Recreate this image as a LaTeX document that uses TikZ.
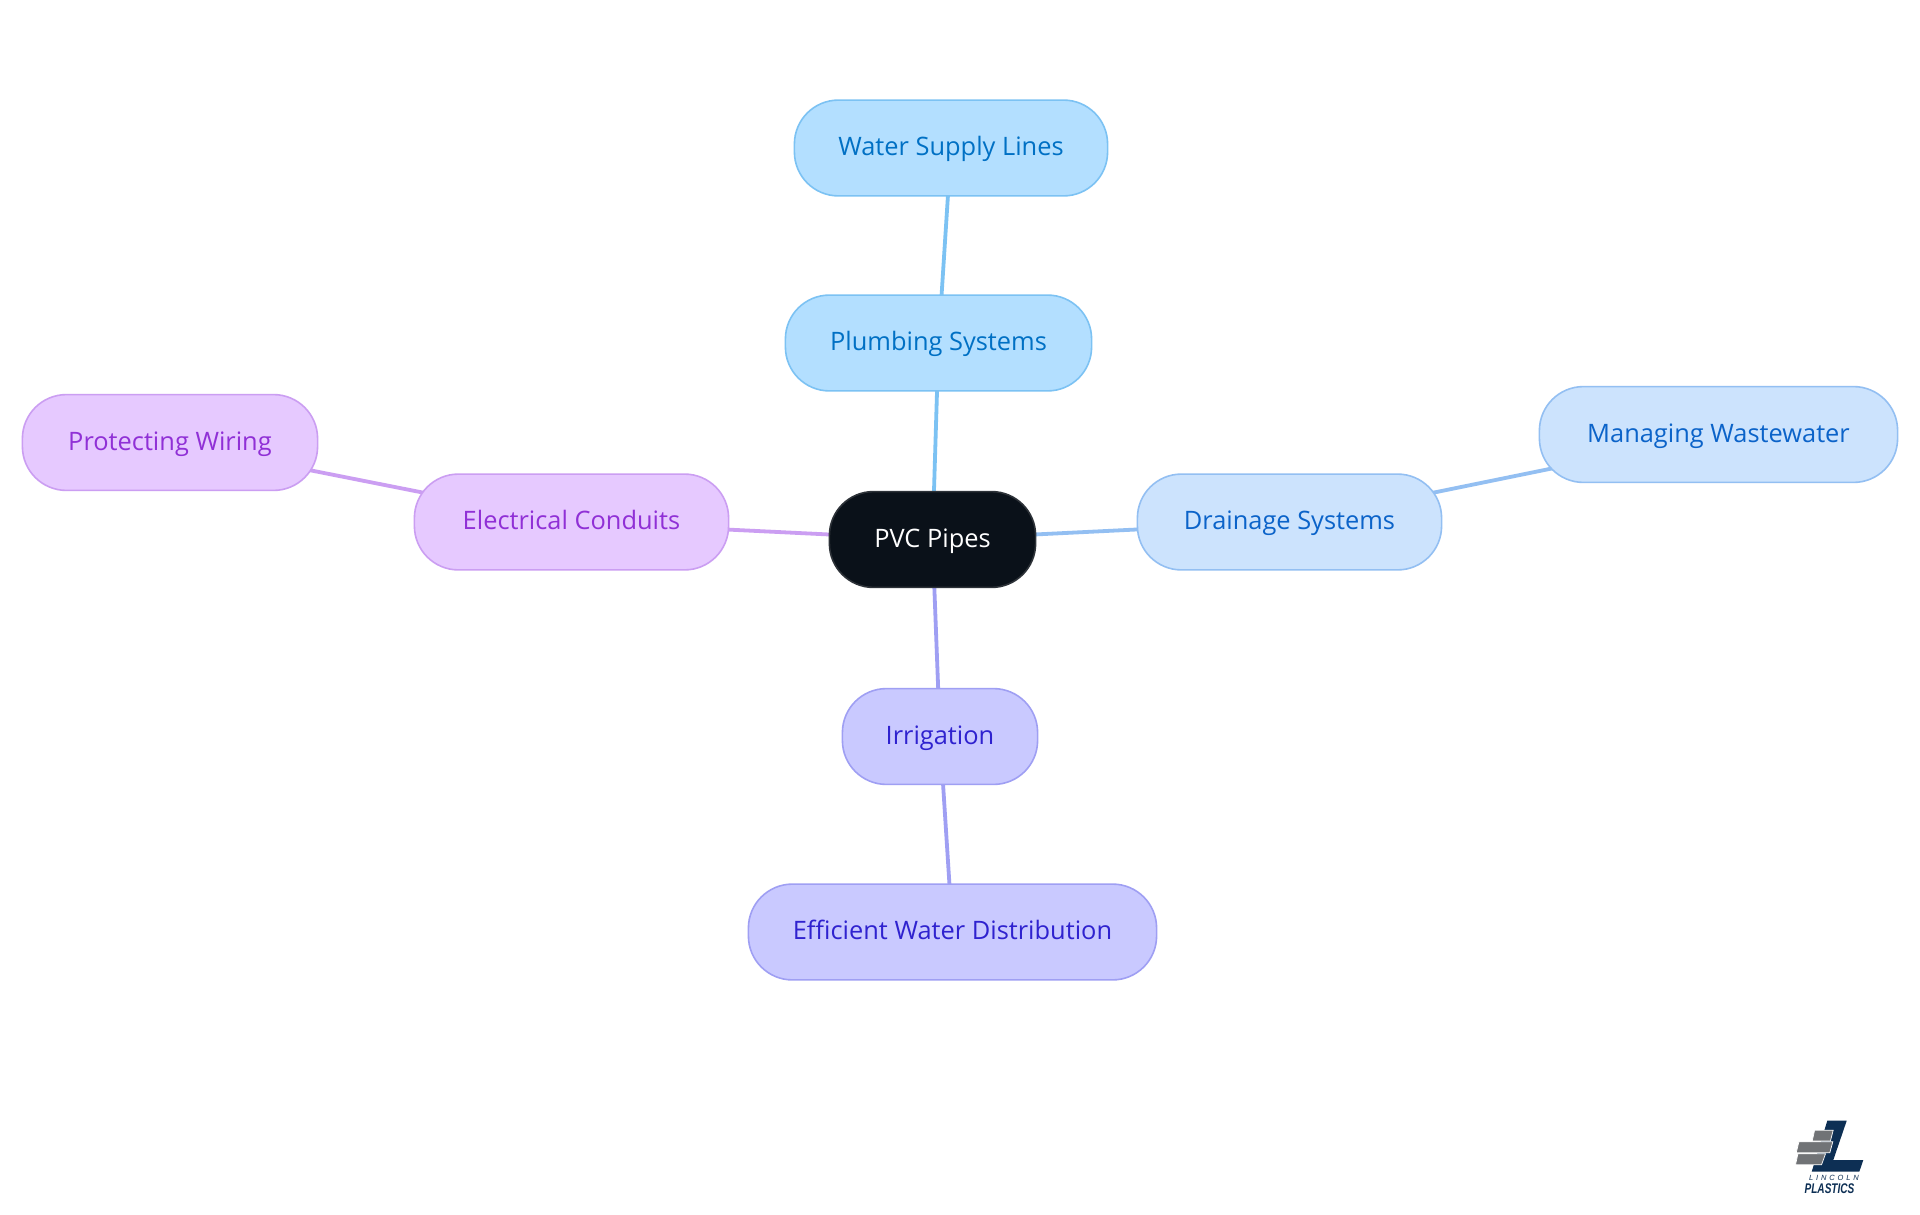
\documentclass[tikz,border=0pt]{standalone}
\usepackage{fontspec}
\setmainfont{Open Sans}
\newfontfamily\logofont{Liberation Sans}
\usetikzlibrary{backgrounds}
\definecolor{pfill}{HTML}{B3DFFF}\definecolor{pline}{HTML}{7CC2F3}\definecolor{ptext}{HTML}{0070C4}
\definecolor{dfill}{HTML}{CCE3FD}\definecolor{dline}{HTML}{93BFF2}\definecolor{dtext}{HTML}{0B63C9}
\definecolor{ifill}{HTML}{C9C9FF}\definecolor{iline}{HTML}{9F9FF3}\definecolor{itext}{HTML}{2F22CF}
\definecolor{efill}{HTML}{E6C9FF}\definecolor{eline}{HTML}{CB9EF2}\definecolor{etext}{HTML}{9030D6}
\definecolor{rootfill}{HTML}{0A1119}\definecolor{rootline}{HTML}{2D3238}
\definecolor{lognavy}{HTML}{0D2F54}\definecolor{loggrey}{HTML}{717376}
\tikzset{
  x=1pt,y=-1pt,
  mind/.style={rounded corners=44pt,line width=1.6pt,inner sep=0pt,outer sep=0pt,font=\fontsize{25.4}{30}\selectfont,align=center,minimum height=95.8pt,text height=20pt,text depth=5pt},
  plumb/.style={mind,fill=pfill,draw=pline,text=ptext},
  drain/.style={mind,fill=dfill,draw=dline,text=dtext},
  irrig/.style={mind,fill=ifill,draw=iline,text=itext},
  elect/.style={mind,fill=efill,draw=eline,text=etext},
  rootnode/.style={mind,fill=rootfill,draw=rootline,text=white},
  link/.style={line width=3.8pt},
  brick/.style={fill=loggrey,draw=white,line width=0.7pt}
}
\begin{document}
\begin{tikzpicture}
\useasboundingbox (0,0) rectangle (1920,1215);
\node[rootnode,minimum width=206.2pt] (root) at (932.5,539.5) {PVC Pipes};
\node[plumb,minimum width=306.2pt] (plumbing) at (938.5,343) {Plumbing Systems};
\node[plumb,minimum width=313.2pt] (water) at (951,148) {Water Supply Lines};
\node[elect,minimum width=314.2pt] (electrical) at (571.5,522) {Electrical Conduits};
\node[elect,minimum width=295.2pt] (wiring) at (170,442.5) {Protecting Wiring};
\node[drain,minimum width=304.2pt] (drainage) at (1289.5,522) {Drainage Systems};
\node[drain,minimum width=358.2pt] (waste) at (1718.5,434.5) {Managing Wastewater};
\node[irrig,minimum width=195.2pt] (irrigation) at (940,736.5) {Irrigation};
\node[irrig,minimum width=408.2pt] (efficient) at (952.5,932) {Efficient Water Distribution};
\begin{scope}[on background layer]
\fill[white] (0,0) rectangle (1920,1215);
\draw[link,pline] (root.center) -- (plumbing.center);
\draw[link,pline] (plumbing.center) -- (water.center);
\draw[link,eline] (root.center) -- (electrical.center);
\draw[link,eline] (electrical.center) -- (wiring.center);
\draw[link,dline] (root.center) -- (drainage.center);
\draw[link,dline] (drainage.center) -- (waste.center);
\draw[link,iline] (root.center) -- (irrigation.center);
\draw[link,iline] (irrigation.center) -- (efficient.center);
\end{scope}
% logo
\fill[lognavy] (1827.3,1120.7) -- (1846.7,1120.7) -- (1833.3,1160) -- (1863.3,1160) -- (1859.3,1171.7) -- (1811.7,1171.7) -- cycle;
\path[brick] (1814.6,1130.2) -- (1833.2,1130.2) -- (1830.4,1141) -- (1812.2,1141) -- cycle;
\path[brick] (1798.9,1141.8) -- (1832.8,1141.8) -- (1829.8,1152.8) -- (1796.2,1152.8) -- cycle;
\path[brick] (1797.9,1153.8) -- (1825.5,1153.8) -- (1821.5,1164.8) -- (1795.5,1164.8) -- cycle;
\node[inner sep=0pt,text=lognavy] (lincoln) at (1834,1178) {\logofont\fontsize{7.5}{7.5}\selectfont\itshape\addfontfeature{LetterSpace=38}LINCOLN};
\node[inner sep=0pt,text=lognavy,xscale=0.72,transform shape] (plastics) at (1829.5,1188.5) {\logofont\fontsize{14}{14}\selectfont\bfseries\itshape PLASTICS};
\end{tikzpicture}
\end{document}
